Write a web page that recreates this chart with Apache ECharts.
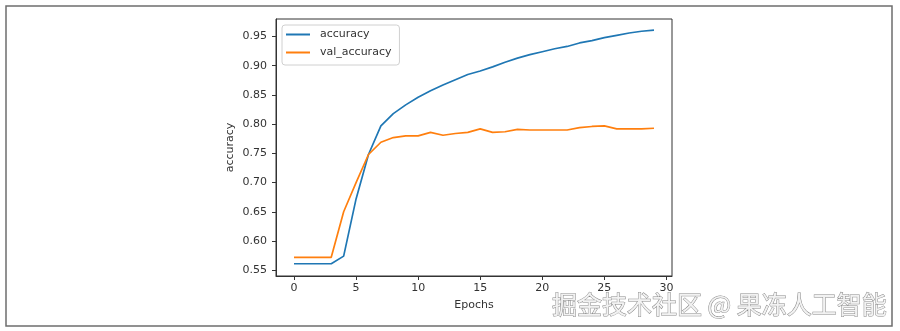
<!DOCTYPE html>
<html>
<head>
<meta charset="utf-8">
<script src="https://cdn.jsdelivr.net/npm/echarts@6/dist/echarts.min.js"></script>
<style>html,body{margin:0;padding:0;background:#fff}#c{width:900px;height:331px}</style>
</head>
<body>
<div id="c"></div>
<script>
const epochs = [0,1,2,3,4,5,6,7,8,9,10,11,12,13,14,15,16,17,18,19,20,21,22,23,24,25,26,27,28,29];
const accuracy = [0.561,0.561,0.561,0.561,0.574,0.672,0.748,0.797,0.818,0.833,0.846,0.857,0.867,0.876,0.885,0.891,0.898,0.906,0.913,0.919,0.924,0.929,0.933,0.939,0.943,0.948,0.952,0.956,0.959,0.961];
const valAccuracy = [0.572,0.572,0.572,0.572,0.650,0.700,0.748,0.769,0.777,0.780,0.780,0.786,0.781,0.784,0.786,0.792,0.786,0.787,0.791,0.790,0.790,0.790,0.790,0.794,0.796,0.797,0.792,0.792,0.792,0.793];
const xTicks = [0,5,10,15,20,25,30];
const yTicks = [0.55,0.60,0.65,0.70,0.75,0.80,0.85,0.90,0.95];
const seriesNames = ['accuracy','val_accuracy'];
const watermark = '掘金技术社区 @ 果冻人工智能';

const chart = echarts.init(document.getElementById('c'), null, {renderer:'canvas'});
const font = 'DejaVu Sans';
const txt = '#333';
chart.setOption({
  animation: false,
  backgroundColor: '#fff',
  textStyle: {fontFamily: font},
  grid: {left: 276, top: 19, right: 228, bottom: 55, show: true, borderColor: '#333', borderWidth: 1, containLabel: false},
  legend: {
    data: seriesNames,
    orient: 'vertical',
    left: 282, top: 25,
    icon: 'rect',
    itemWidth: 24, itemHeight: 2,
    itemGap: 5,
    padding: [3, 8, 6, 4],
    borderColor: '#d0d0d0', borderWidth: 1, borderRadius: 3,
    backgroundColor: 'rgba(255,255,255,0.8)',
    textStyle: {fontFamily: font, fontSize: 11, color: txt, lineHeight: 13, padding: [0,0,0,5]}
  },
  xAxis: {
    type: 'value', min: -1.45, max: 30.45,
    name: 'Epochs', nameLocation: 'middle', nameGap: 24,
    nameTextStyle: {fontFamily: font, fontSize: 11, color: txt},
    axisLine: {show: true, onZero: false, lineStyle: {color: '#333', width: 1}},
    axisTick: {show: true, length: 4, lineStyle: {color: '#333'}, customValues: xTicks},
    axisLabel: {fontFamily: font, fontSize: 11, color: txt, margin: 7, customValues: xTicks, formatter: v => String(v)},
    splitLine: {show: false}
  },
  yAxis: {
    type: 'value', min: 0.54, max: 0.98,
    name: 'accuracy', nameLocation: 'middle', nameGap: 40,
    nameTextStyle: {fontFamily: font, fontSize: 11, color: txt},
    axisLine: {show: true, onZero: false, lineStyle: {color: '#333', width: 1}},
    axisTick: {show: true, length: 4, lineStyle: {color: '#333'}, customValues: yTicks},
    axisLabel: {fontFamily: font, fontSize: 11, color: txt, margin: 9, customValues: yTicks, formatter: v => v.toFixed(2)},
    splitLine: {show: false}
  },
  series: [
    {name: seriesNames[0], type: 'line', data: epochs.map((e,i)=>[e, accuracy[i]]), showSymbol: false, symbol: 'none', lineStyle: {color: '#1f77b4', width: 1.7}, itemStyle: {color: '#1f77b4'}},
    {name: seriesNames[1], type: 'line', data: epochs.map((e,i)=>[e, valAccuracy[i]]), showSymbol: false, symbol: 'none', lineStyle: {color: '#ff7f0e', width: 1.7}, itemStyle: {color: '#ff7f0e'}}
  ],
  graphic: [
    {type: 'rect', shape: {x: 6, y: 6, width: 886, height: 320}, style: {fill: 'none', stroke: '#6e6e6e', lineWidth: 1.5}, silent: true, z: 100},
    {type: 'text', x: 552, y: 304, style: {text: watermark, fontFamily: 'Noto Sans CJK SC', fontSize: 25, fill: '#f2f2f2', stroke: '#8a8a8a', lineWidth: 1, textAlign: 'left', textVerticalAlign: 'middle'}, silent: true, z: 101}
  ]
});
</script>
</body>
</html>
